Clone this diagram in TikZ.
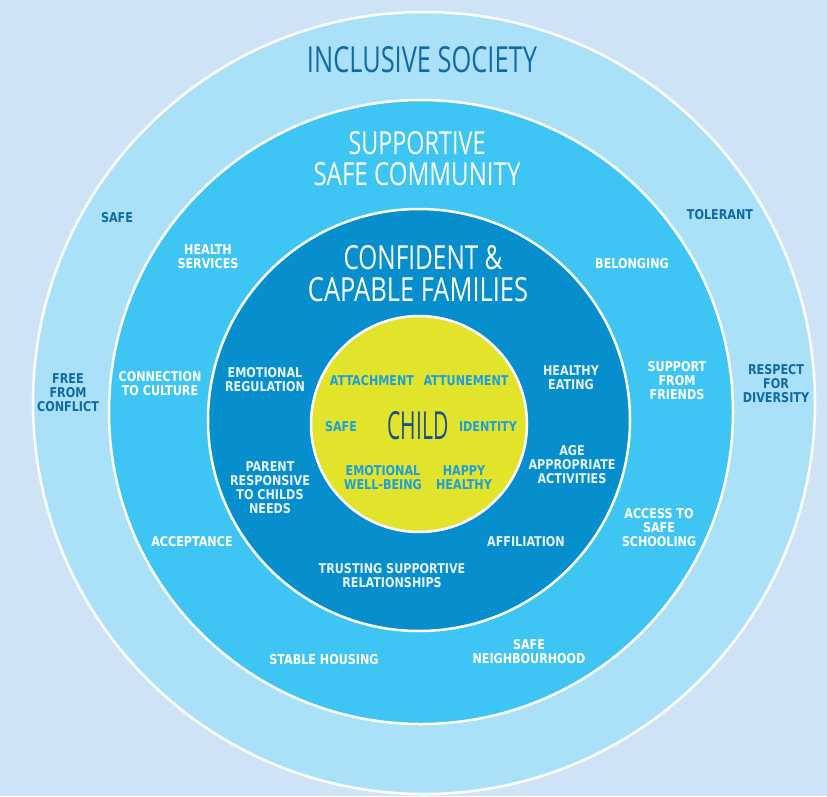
\documentclass[tikz,border=0pt]{standalone}
\usepackage{fontspec}
\usepackage{graphicx}
\setmainfont{DejaVu Sans Condensed}
\newfontfamily\labfont{DejaVu Sans Condensed}[FakeStretch=0.92]
\newfontfamily\hwfont{Open Sans}
\definecolor{bgc}{HTML}{CFE3F6}
\definecolor{ringA}{HTML}{AAE0F8}
\definecolor{ringB}{HTML}{3FC5F3}
\definecolor{ringC}{HTML}{068ECD}
\definecolor{yel}{HTML}{E2E42C}
\definecolor{outtxt}{HTML}{0F6AA6}
\definecolor{darktxt}{HTML}{E6F3FA}
\definecolor{ytxt}{HTML}{1B9FDC}
\definecolor{childtxt}{HTML}{1D4E8C}
\newcommand\hwtext[3]{\resizebox{#1pt}{#2pt}{\hwfont #3}}
\begin{document}
\begin{tikzpicture}[x=1pt,y=-1pt,
  lab/.style={font=\labfont\bfseries\fontsize{13.5}{14}\selectfont, align=center, inner sep=0pt},
  outerlab/.style={lab, text=outtxt},
  midlab/.style={lab, text=white},
  darklab/.style={lab, text=darktxt},
  ylab/.style={lab, text=ytxt},
  ring/.style={draw=white, line width=2.5pt},
  title/.style={inner sep=0pt}]
\useasboundingbox (0,0) rectangle (827,796);
\fill[bgc] (0,0) rectangle (827,796);
\filldraw[ring, fill=ringA] (424,403) circle[radius=391];
\filldraw[ring, fill=ringB] (421,412) circle[radius=312];
\filldraw[ring, fill=ringC] (419,420) circle[radius=211];
\filldraw[ring, fill=yel] (419,424) circle[radius=108];
% titles
\node[title, text=outtxt] (t1) at (422,60) {\hwtext{230}{26}{INCLUSIVE SOCIETY}};
\node[title, text=white] (t2a) at (417,143) {\hwtext{137}{23}{SUPPORTIVE}};
\node[title, text=white] (t2b) at (417,174) {\hwtext{207}{23}{SAFE COMMUNITY}};
\node[title, text=white] (t3a) at (423,258) {\hwtext{159}{24}{CONFIDENT \&}};
\node[title, text=white] (t3b) at (418,290) {\hwtext{220}{24}{CAPABLE FAMILIES}};
\node[title, text=childtxt] (t4) at (418,426) {\hwtext{61}{28}{CHILD}};
% outer ring
\node[outerlab] (o1) at (117,218) {SAFE};
\node[outerlab] (o2) at (720,215) {TOLERANT};
\node[outerlab] (o3) at (68,393) {FREE\\FROM\\CONFLICT};
\node[outerlab] (o4) at (776,384) {RESPECT\\FOR\\DIVERSITY};
% middle ring
\node[midlab] (m1) at (208,257) {HEALTH\\SERVICES};
\node[midlab] (m2) at (632,264) {BELONGING};
\node[midlab] (m3) at (160,384) {CONNECTION\\TO CULTURE};
\node[midlab] (m4) at (677,381) {SUPPORT\\FROM\\FRIENDS};
\node[midlab] (m5) at (192,542) {ACCEPTANCE};
\node[midlab] (m6) at (659,528) {ACCESS TO\\SAFE\\SCHOOLING};
\node[midlab] (m7) at (324,660) {STABLE HOUSING};
\node[midlab] (m8) at (529,652) {SAFE\\NEIGHBOURHOOD};
% dark ring
\node[darklab] (d1) at (265,380) {EMOTIONAL\\REGULATION};
\node[darklab] (d2) at (571,378) {HEALTHY\\EATING};
\node[darklab] (d3) at (270,488) {PARENT\\RESPONSIVE\\TO CHILDS\\NEEDS};
\node[darklab] (d4) at (572,465) {AGE\\APPROPRIATE\\ACTIVITIES};
\node[darklab] (d5) at (526,542) {AFFILIATION};
\node[darklab] (d6) at (392,576) {TRUSTING SUPPORTIVE\\RELATIONSHIPS};
% yellow
\node[ylab] (y1) at (372,381) {ATTACHMENT};
\node[ylab] (y2) at (466,381) {ATTUNEMENT};
\node[ylab] (y3) at (341,427) {SAFE};
\node[ylab] (y4) at (488,427) {IDENTITY};
\node[ylab] (y5) at (383,478) {EMOTIONAL\\WELL-BEING};
\node[ylab] (y6) at (464,478) {HAPPY\\HEALTHY};
\end{tikzpicture}
\end{document}
